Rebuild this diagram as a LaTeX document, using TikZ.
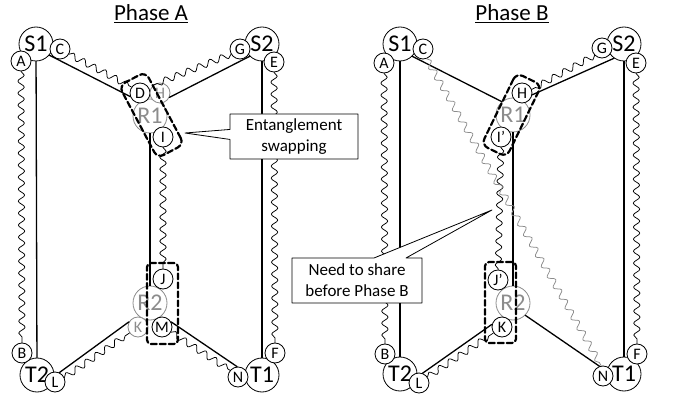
\documentclass[tikz,border=0pt]{standalone}
\usepackage{fontspec}
\setmainfont{Carlito}
\usetikzlibrary{decorations.pathmorphing,shapes.callouts}
\definecolor{relayGray}{HTML}{8C8C8C}

\begin{document}
\begin{tikzpicture}[x=1pt,y=-1pt,line cap=round,line join=round]
\path[fill=white] (0,0) rectangle (678,398);
\tikzset{bignode/.style={circle,draw,fill=white,line width=0.8pt,minimum size=34pt,inner sep=0pt,font=\fontsize{24}{24}\selectfont},relay/.style={bignode,draw=relayGray,text=relayGray},port/.style={circle,draw,fill=white,line width=0.8pt,minimum size=20pt,inner sep=0pt,font=\fontsize{16}{16}\selectfont},grayport/.style={port,draw=relayGray,text=relayGray},chan/.style={draw,line width=1.3pt},entl/.style={draw,line width=0.75pt,decorate,decoration={snake,amplitude=3.2pt,segment length=12pt}},swapbox/.style={draw,dash pattern=on 6pt off 3pt,line width=2.2pt,rounded corners=7pt,inner sep=0pt},callbox/.style={rectangle callout,draw,fill=white,line width=0.8pt,align=center,font=\fontsize{17}{21}\selectfont}}
% titles
\node[font=\fontsize{23}{23}\selectfont] (titleA) at (151,14) {\underline{Phase A}};
\node[font=\fontsize{23}{23}\selectfont] (titleB) at (512,14) {\underline{Phase B}};
% phase A: end nodes and repeaters
\node[bignode] (aS1) at (36,44) {S1}; \node[bignode] (aS2) at (262,44) {S2};
\node[bignode] (aT2) at (37,375) {T2}; \node[bignode] (aT1) at (262,375) {T1};
\node[relay] (aR1) at (150,116) {R1}; \node[relay] (aR2) at (150,303) {R2};
\node[port] (aA) at (21,61) {A}; \node[port] (aC) at (60,49) {C};
\node[port] (aG) at (240,49) {G}; \node[port] (aE) at (274,62) {E};
\node[port] (aD) at (140,93) {D}; \node[grayport] (aH) at (160,93) {H}; \node[port] (aI) at (163,137) {I};
\node[port] (aJ) at (163,279) {J}; \node[grayport] (aK) at (138,327) {K}; \node[port] (aM) at (162,327) {M};
\node[port] (aB) at (22,353) {B}; \node[port] (aL) at (55,382) {L};
\node[port] (aN) at (238,377) {N}; \node[port] (aF) at (275,353) {F};
\draw[chan] (aS1) -- (aT2); \draw[chan] (aS2) -- (aT1); \draw[chan] (aR1) -- (aR2);
\draw[chan] (aS1.-40) -- (aD.200); \draw[chan] (aS2.225) -- (aH.-25);
\draw[chan] (aL.65) -- (aK.150); \draw[chan] (aM.30) -- (aN.95);
\draw[entl] (aA) -- (aB); \draw[entl] (aE) -- (aF); \draw[entl] (aI) -- (aJ);
\draw[entl] (aC.-30) -- (aD.145); \draw[entl] (aG.210) -- (aH.130);
\draw[entl] (aL.25) -- (aK.215); \draw[entl] (aM.-30) -- (aN.140);
\node[swapbox,rotate=-62,minimum width=82pt,minimum height=30pt] (aSwap) at (151.5,115) {};
\node[swapbox,rounded corners=4pt,minimum width=31pt,minimum height=81pt] (aShare) at (162.5,303.5) {};
% phase B
\node[bignode] (bS1) at (400,44) {S1}; \node[bignode] (bS2) at (624,44) {S2};
\node[bignode] (bT2) at (400,374) {T2}; \node[bignode] (bT1) at (624,374) {T1};
\node[relay] (bR1) at (513,115) {R1}; \node[relay] (bR2) at (513,303) {R2};
\node[port] (bA) at (384,63) {A}; \node[port] (bC) at (423,49) {C};
\node[port] (bG) at (602,48) {G}; \node[port] (bE) at (636,63) {E};
\node[port] (bH) at (522,93) {H}; \node[port] (bI) at (501,137) {I’};
\node[port] (bJ) at (498,280) {J’}; \node[port] (bK) at (502,327) {K};
\node[port] (bB) at (385,354) {B}; \node[port] (bL) at (419,383) {L};
\node[port] (bN) at (603,376) {N}; \node[port] (bF) at (637,354) {F};
\draw[chan] (bS1) -- (bT2); \draw[chan] (bS2) -- (bT1); \draw[chan] (bR1) -- (bR2);
\draw[chan] (bS1.-45) -- (bR1.130); \draw[chan] (bS2.235) -- (bH.-10);
\draw[chan] (bK.165) -- (bL.70); \draw[chan] (bR2.-45) -- (bN.110);
\draw[entl] (bA) -- (bB); \draw[entl] (bE) -- (bF); \draw[entl] (bI) -- (bJ);
\draw[entl] (bG.225) -- (bH.20); \draw[entl] (bL.35) -- (bK.215);
\draw[entl,draw=relayGray] (bC.-70) -- (bN.100);
\node[swapbox,rotate=64,minimum width=80pt,minimum height=28pt] (bSwap) at (511.5,115) {};
\node[swapbox,rounded corners=4pt,minimum width=31pt,minimum height=81pt] (bShare) at (500.5,302.5) {};
% notes
\coordinate (swapTip) at (185,133);
\node[callbox,callout absolute pointer={(swapTip)},callout pointer width=10pt,minimum width=128pt,minimum height=45pt] (swapNote) at (294,136.5) {Entanglement\\swapping};
\coordinate (shareTip) at (492,210);
\node[callbox,callout absolute pointer={(shareTip)},callout pointer width=32pt,minimum width=130pt,minimum height=45pt] (shareNote) at (357,280.5) {Need to share\\before Phase B};
\end{tikzpicture}
\end{document}
